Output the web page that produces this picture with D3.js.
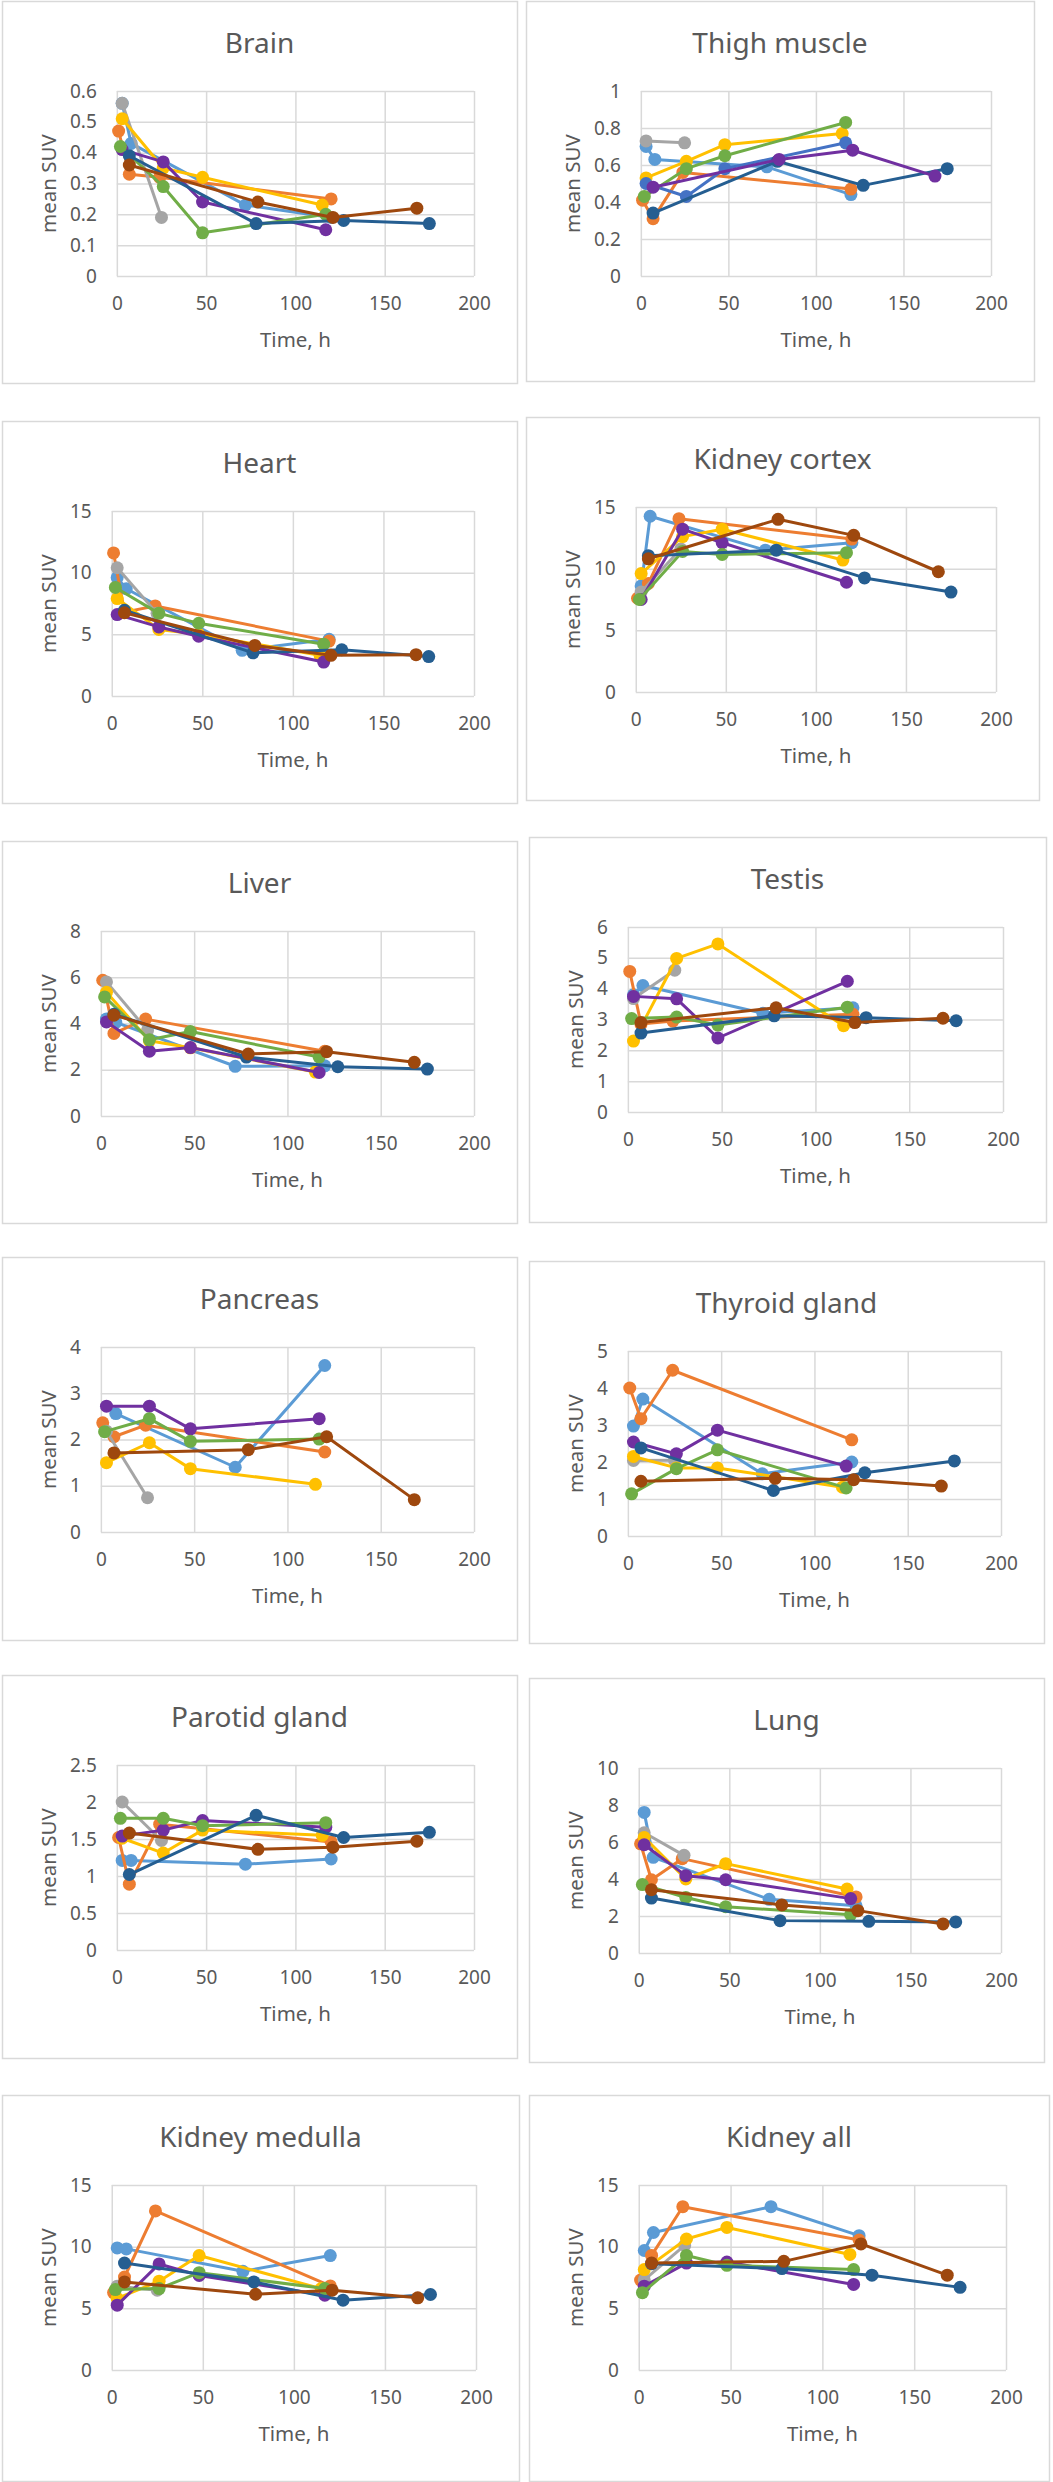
<!DOCTYPE html>
<html>
<head>
<meta charset="utf-8">
<script src="https://cdn.jsdelivr.net/npm/d3@7"></script>
<style>
  body { margin: 0; background: #fff; }
  text { font-family: "Noto Sans", sans-serif; fill: #595959; }
</style>
</head>
<body>
<svg id="chart" width="1053" height="2482"></svg>
<script>
// sampling times (h) for each of the 8 series
const times = [
  [3, 8, 72, 120],
  [1, 7, 24, 120],
  [3, 25],
  [3, 26, 48, 115],
  [3, 26, 48, 117],
  [2, 26, 48, 117],
  [7, 78, 127, 175],
  [7, 79, 121, 168]
];

const colors = ['#5B9BD5', '#ED7D31', '#A5A5A5', '#FFC000', '#7030A0', '#70AD47', '#255E91', '#9E480E'];
const thighColors = ['#5B9BD5', '#ED7D31', '#A5A5A5', '#FFC000', '#4472C4', '#70AD47', '#255E91', '#7030A0'];

const xTicks = [0, 50, 100, 150, 200];

// mean SUV values, one row per series
const brain = [
  [0.56, 0.43, 0.23, 0.19],
  [0.47, 0.33, 0.32, 0.25],
  [0.56, 0.19],
  [0.51, 0.35, 0.32, 0.23],
  [0.41, 0.37, 0.24, 0.15],
  [0.42, 0.29, 0.14, 0.20],
  [0.39, 0.17, 0.18, 0.17],
  [0.36, 0.24, 0.19, 0.22]
];
const thigh = [
  [0.70, 0.63, 0.59, 0.44],
  [0.41, 0.31, 0.56, 0.47],
  [0.73, 0.72],
  [0.53, 0.62, 0.71, 0.77],
  [0.50, 0.43, 0.58, 0.72],
  [0.43, 0.58, 0.65, 0.83],
  [0.34, 0.62, 0.49, 0.58],
  [0.48, 0.63, 0.68, 0.54]
];
const heart = [
  [9.6, 8.7, 3.7, 4.6],
  [11.6, 6.8, 7.3, 4.45],
  [10.4, 6.7],
  [7.9, 5.4, 5.0, 3.3],
  [6.6, 5.6, 4.85, 2.75],
  [8.8, 6.7, 5.9, 4.2],
  [6.95, 3.5, 3.75, 3.2],
  [6.75, 4.1, 3.3, 3.35]
];
const cortex = [
  [8.6, 14.25, 11.5, 12.1],
  [7.6, 8.8, 14.05, 12.4],
  [8.1, 11.6],
  [9.6, 12.6, 13.2, 10.7],
  [7.5, 13.2, 12.1, 8.9],
  [7.5, 11.4, 11.15, 11.3],
  [11.05, 11.5, 9.25, 8.1],
  [10.8, 14.0, 12.7, 9.75]
];
const liver = [
  [4.2, 4.05, 2.15, 2.17],
  [5.87, 3.57, 4.19, 2.8],
  [5.8, 3.7],
  [5.35, 3.25, 2.95, 1.9],
  [4.07, 2.8, 2.96, 1.88],
  [5.15, 3.3, 3.65, 2.55],
  [4.4, 2.55, 2.13, 2.03],
  [4.36, 2.68, 2.78, 2.32]
];
const testis = [
  [3.8, 4.1, 3.2, 3.38],
  [4.56, 2.85, 2.95, 3.17],
  [3.68, 4.6],
  [2.3, 4.98, 5.45, 2.8],
  [3.75, 3.67, 2.4, 4.24],
  [3.03, 3.08, 2.82, 3.4],
  [2.56, 3.12, 3.06, 2.96],
  [2.9, 3.38, 2.9, 3.04]
];
const pancreas = [
  [null, 2.56, 1.4, 3.6],
  [2.36, 2.06, 2.31, 1.73],
  [2.18, 0.74],
  [1.5, 1.93, 1.37, 1.03],
  [2.72, 2.72, 2.23, 2.45],
  [2.17, 2.45, 1.96, 2.01],
  [],
  [1.71, 1.78, 2.06, 0.7]
];
const thyroid = [
  [2.97, 3.7, 1.68, 2.0],
  [4.0, 3.17, 4.48, 2.6],
  [2.04, 2.05],
  [2.15, 1.84, 1.84, 1.32],
  [2.54, 2.22, 2.86, 1.89],
  [1.14, 1.82, 2.33, 1.3],
  [2.38, 1.23, 1.71, 2.03],
  [1.48, 1.56, 1.52, 1.35]
];
const parotid = [
  [1.21, 1.21, 1.16, 1.23],
  [1.52, 0.89, 1.7, 1.46],
  [2.0, 1.48],
  [1.51, 1.31, 1.62, 1.55],
  [1.54, 1.62, 1.75, 1.66],
  [1.78, 1.78, 1.68, 1.72],
  [1.02, 1.82, 1.52, 1.59],
  [1.58, 1.36, 1.39, 1.47]
];
const lung = [
  [7.6, 5.17, 2.9, 2.55],
  [5.9, 3.96, 5.1, 3.03],
  [6.5, 5.28],
  [6.25, 4.0, 4.83, 3.46],
  [5.85, 4.18, 3.96, 2.94],
  [3.7, 3.0, 2.5, 2.07],
  [2.97, 1.75, 1.71, 1.68],
  [3.42, 2.6, 2.29, 1.57]
];
const medulla = [
  [9.9, 9.82, 8.0, 9.28],
  [6.28, 7.54, 12.9, 6.82],
  [6.8, 6.47],
  [5.8, 7.2, 9.28, 6.6],
  [5.26, 8.6, 7.67, 6.06],
  [6.52, 6.6, 7.89, 6.6],
  [8.67, 7.14, 5.66, 6.12],
  [7.14, 6.14, 6.47, 5.85]
];
const kidneyAll = [
  [9.69, 11.15, 13.24, 10.89],
  [7.29, 9.29, 13.24, 10.54],
  [7.3, 10.1],
  [8.14, 10.62, 11.56, 9.37],
  [6.8, 8.67, 8.75, 6.94],
  [6.27, 9.29, 8.49, 8.14],
  [8.62, 8.22, 7.69, 6.7],
  [8.67, 8.81, 10.22, 7.69]
];

const panels = [
  { title: 'Brain', values: brain, yMax: 0.6, yStep: 0.1 },
  { title: 'Thigh muscle', values: thigh, yMax: 1, yStep: 0.2, colors: thighColors },
  { title: 'Heart', values: heart, yMax: 15, yStep: 5 },
  { title: 'Kidney cortex', values: cortex, yMax: 15, yStep: 5 },
  { title: 'Liver', values: liver, yMax: 8, yStep: 2 },
  { title: 'Testis', values: testis, yMax: 6, yStep: 1 },
  { title: 'Pancreas', values: pancreas, yMax: 4, yStep: 1 },
  { title: 'Thyroid gland', values: thyroid, yMax: 5, yStep: 1 },
  { title: 'Parotid gland', values: parotid, yMax: 2.5, yStep: 0.5 },
  { title: 'Lung', values: lung, yMax: 10, yStep: 2 },
  { title: 'Kidney medulla', values: medulla, yMax: 15, yStep: 5 },
  { title: 'Kidney all', values: kidneyAll, yMax: 15, yStep: 5 }
];

// panel boxes [x, y, width, height]
const layout = [
  [2, 1, 515, 382], [526, 1, 508, 380],
  [2, 421, 515, 382], [526, 417, 513, 383],
  [2, 841, 515, 382], [529, 837, 517, 385],
  [2, 1257, 515, 383], [529, 1261, 515, 382],
  [2, 1675, 515, 383], [529, 1678, 515, 384],
  [2, 2095, 517, 386], [529, 2095, 520, 386]
];

const svg = d3.select('#chart');
const fmt = v => String(+v.toFixed(2));

panels.forEach((p, i) => {
  const [px, py, pw, ph] = layout[i];
  const g = svg.append('g').attr('transform', `translate(${px},${py})`);

  g.append('rect')
    .attr('x', 0.5).attr('y', 0.5)
    .attr('width', pw).attr('height', ph)
    .attr('fill', '#fff')
    .attr('stroke', '#d9d9d9')
    .attr('stroke-width', 1.5);

  g.append('text')
    .attr('x', pw / 2)
    .attr('y', 52)
    .attr('text-anchor', 'middle')
    .attr('font-size', 28)
    .text(p.title);

  const yTicks = d3.range(0, p.yMax + p.yStep / 2, p.yStep);

  // measure the widest y label to place the plot area like Excel does
  const probe = g.append('g').attr('font-size', 19);
  let maxW = 0;
  yTicks.forEach(t => {
    const n = probe.append('text').text(fmt(t)).node();
    maxW = Math.max(maxW, n.getComputedTextLength());
  });
  probe.remove();

  const left = 68 + maxW + 20;
  const right = pw - 43;
  const top = 90;
  const bottom = 275;

  const x = d3.scaleLinear().domain([0, 200]).range([left, right]);
  const y = d3.scaleLinear().domain([0, p.yMax]).range([bottom, top]);

  g.append('g')
    .attr('transform', `translate(0,${bottom})`)
    .call(d3.axisBottom(x).tickValues(xTicks).tickSize(-(bottom - top)).tickPadding(21).tickFormat(fmt))
    .call(a => a.select('.domain').remove())
    .call(a => a.selectAll('line').attr('stroke', '#d9d9d9').attr('stroke-width', 1.5))
    .call(a => a.selectAll('text').attr('font-size', 19).attr('fill', '#595959').attr('font-family', '"Noto Sans", sans-serif'));

  g.append('g')
    .attr('transform', `translate(${left},0)`)
    .call(d3.axisLeft(y).tickValues(yTicks).tickSize(-(right - left)).tickPadding(20).tickFormat(fmt))
    .call(a => a.select('.domain').remove())
    .call(a => a.selectAll('line').attr('stroke', '#d9d9d9').attr('stroke-width', 1.5))
    .call(a => a.selectAll('text').attr('font-size', 19).attr('fill', '#595959').attr('font-family', '"Noto Sans", sans-serif'));

  g.append('text')
    .attr('x', (left + right) / 2)
    .attr('y', bottom + 71)
    .attr('text-anchor', 'middle')
    .attr('font-size', 20.5)
    .text('Time, h');

  g.append('text')
    .attr('transform', `translate(47,${(top + bottom) / 2}) rotate(-90)`)
    .attr('text-anchor', 'middle')
    .attr('dy', '0.35em')
    .attr('font-size', 20.5)
    .text('mean SUV');

  const cols = p.colors || colors;
  const line = d3.line().x(d => x(d.t)).y(d => y(d.v));

  p.values.forEach((vals, s) => {
    const pts = times[s].map((t, k) => ({ t, v: vals[k] }))
      .filter(d => d.v != null);
    if (!pts.length) return;
    const sg = g.append('g');
    sg.append('path')
      .datum(pts)
      .attr('fill', 'none')
      .attr('stroke', cols[s])
      .attr('stroke-width', 3)
      .attr('stroke-linejoin', 'round')
      .attr('d', line);
    sg.selectAll('circle')
      .data(pts)
      .enter().append('circle')
      .attr('cx', d => x(d.t))
      .attr('cy', d => y(d.v))
      .attr('r', 6.5)
      .attr('fill', cols[s]);
  });
});
</script>
</body>
</html>
